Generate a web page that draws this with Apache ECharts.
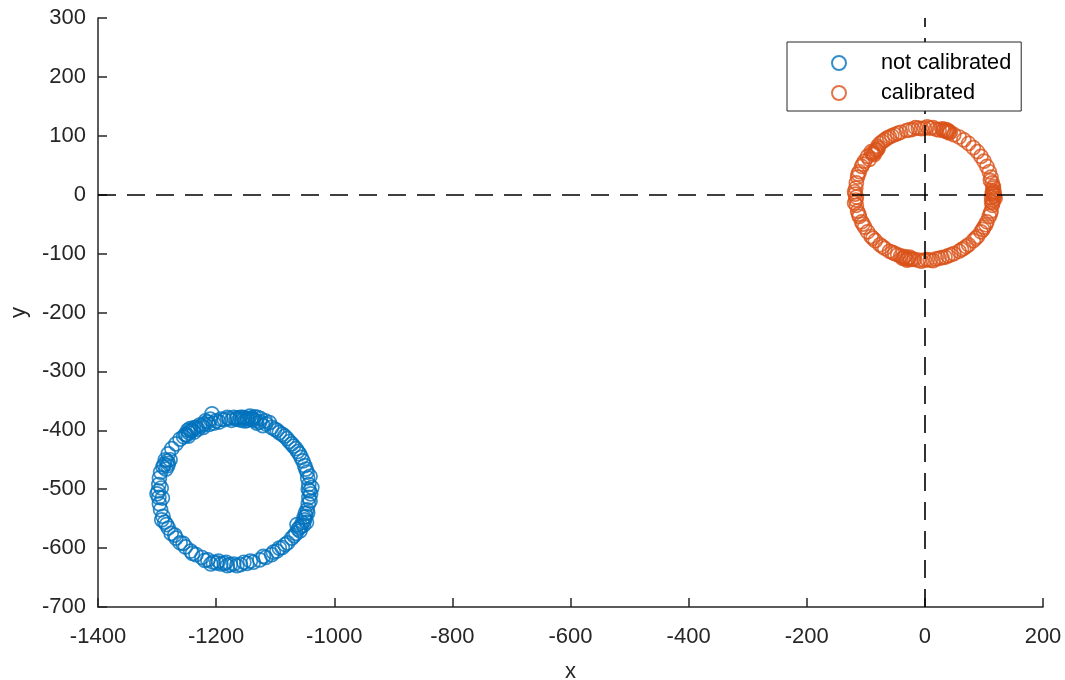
<!DOCTYPE html>
<html>
<head>
<meta charset="utf-8">
<script src="https://cdn.jsdelivr.net/npm/echarts@6/dist/echarts.min.js"></script>
<style>
html,body{margin:0;padding:0;background:#fff;}
#main{width:1065px;height:680px;}
</style>
</head>
<body>
<div id="main"></div>
<script>
const seriesNames = ['not calibrated', 'calibrated'];
const notCalibrated = [
  [-1042,-503],[-1043,-492],[-1045,-481],[-1046,-471],[-1050,-460],[-1053,-452],[-1059,-440],[-1065,-431],
  [-1072,-423],[-1080,-414],[-1088,-407],[-1097,-400],[-1106,-395],[-1116,-389],[-1126,-386],[-1133,-384],
  [-1137,-382],[-1141,-381],[-1145,-380],[-1148,-380],[-1152,-379],[-1155,-378],[-1159,-378],[-1164,-379],
  [-1170,-378],[-1178,-380],[-1181,-378],[-1192,-381],[-1200,-384],[-1207,-372],[-1214,-386],[-1220,-389],
  [-1224,-392],[-1234,-395],[-1240,-400],[-1243,-401],[-1246,-404],[-1250,-408],[-1252,-407],[-1261,-415],
  [-1268,-423],[-1275,-431],[-1281,-440],[-1283,-452],[-1281,-456],[-1286,-450],[-1290,-462],[-1294,-471],
  [-1296,-481],[-1297,-492],[-1298,-503],[-1297,-514],[-1296,-525],[-1294,-535],[-1290,-546],[-1287,-556],
  [-1281,-566],[-1276,-575],[-1268,-583],[-1261,-591],[-1252,-598],[-1243,-605],[-1234,-611],[-1224,-616],
  [-1214,-620],[-1205,-624],[-1199,-625],[-1192,-627],[-1186,-626],[-1181,-630],[-1176,-628],[-1170,-627],
  [-1159,-628],[-1148,-626],[-1137,-624],[-1126,-620],[-1116,-616],[-1106,-611],[-1097,-605],[-1088,-599],
  [-1079,-591],[-1072,-583],[-1065,-575],[-1061,-568],[-1059,-565],[-1054,-557],[-1050,-552],[-1048,-546],
  [-1046,-535],[-1044,-525],[-1043,-514],[-1040,-508],[-1044,-500],[-1047,-556],[-1052,-561],[-1045,-540],
  [-1125,-380],[-1130,-378],[-1135,-377],[-1139,-379],[-1143,-376],[-1147,-383],[-1151,-384],[-1156,-383],
  [-1161,-382],[-1166,-381],[-1174,-383],[-1186,-382],[-1195,-386],[-1204,-388],[-1210,-381],[-1218,-384],
  [-1228,-391],[-1231,-398],[-1237,-403],[-1244,-397],[-1248,-400],[-1255,-411],[-1247,-410],[-1238,-396],
  [-1222,-395],[-1212,-390],[-1117,-384],[-1110,-387],[-1121,-392],[-1131,-388],[-1282,-460],[-1285,-466],
  [-1278,-450],[-1288,-458],[-1291,-515],[-1300,-508],[-1293,-498],[-1292,-552],[-1284,-560],[-1270,-578],
  [-1256,-592],[-1240,-609],[-1219,-621],[-1209,-627],[-1196,-622],[-1183,-624],[-1165,-630],[-1153,-624],
  [-1142,-622],[-1120,-614],[-1103,-607],[-1093,-600],[-1083,-594],[-1068,-579],[-1056,-563],[-1051,-548],
  [-1049,-541],[-1058,-571],[-1063,-560],[-1041,-520],[-1038,-497],[-1041,-478],[-1048,-466],[-1056,-446],
  [-1062,-436],[-1069,-427],[-1076,-419],[-1084,-410],[-1093,-404],[-1101,-398]
];
const calibrated = [
  [116,1],[117,-3],[115,4],[116,11],[114,20],[112,30],[109,39],[105,48],[100,57],[95,65],[89,73],[82,80],
  [74,87],[66,93],[58,98],[49,102],[41,105],[38,107],[35,108],[31,109],[19,111],[9,113],[-1,113],[-11,113],
  [-21,111],[-31,109],[-41,106],[-51,102],[-60,98],[-68,93],[-76,87],[-81,76],[-84,73],[-87,70],[-91,73],
  [-97,65],[-102,57],[-107,48],[-111,39],[-114,30],[-116,20],[-117,11],[-118,1],[-117,-9],[-116,-18],
  [-114,-28],[-111,-37],[-107,-46],[-102,-55],[-97,-63],[-91,-71],[-84,-78],[-76,-85],[-68,-91],[-60,-96],
  [-51,-100],[-41,-104],[-36,-107],[-32,-109],[-28,-108],[-24,-110],[-21,-109],[-11,-111],[-1,-111],
  [9,-111],[19,-109],[29,-107],[39,-104],[49,-100],[58,-96],[66,-91],[74,-85],[82,-78],[89,-71],[95,-63],
  [100,-55],[105,-46],[109,-37],[112,-28],[114,-18],[116,-9],[113,-5],[115,7],
  [118,-1],[114,2],[117,5],[119,-6],[113,-12],[116,14],[111,24],[33,111],[37,110],[40,108],[43,106],
  [29,112],[24,110],[14,114],[4,115],[-6,112],[-16,114],[-26,110],[-46,104],[-56,100],[-64,96],
  [-72,90],[-79,79],[-83,76],[-86,68],[-89,71],[-80,82],[-94,60],[-105,52],[-113,35],[-119,5],
  [-116,-4],[-119,-14],[-112,-33],[-105,-50],[-88,-74],[-72,-88],[-55,-98],[-46,-102],[-38,-108],
  [-34,-105],[-30,-111],[-26,-106],[-18,-110],[-6,-113],[4,-110],[14,-112],[24,-108],[34,-106],
  [44,-102],[62,-93],[70,-88],[86,-74],[98,-59],[103,-51],[111,-32],[115,-14]
];
const xRange = [-1400, 200, 200];
const yRange = [-700, 300, 100];
const colors = ['#0072BD', '#D95319'];

const chart = echarts.init(document.getElementById('main'));
const axisColor = '#262626';
const font = 'Liberation Sans, Arial, sans-serif';
function scatter(name, data, color) {
  return {
    name: name, type: 'scatter', data: data, symbol: 'circle', symbolSize: 14, z: 2,
    itemStyle: { color: 'rgba(0,0,0,0)', borderColor: color, borderWidth: 1.7 },
    emphasis: { disabled: true }
  };
}
const s1 = scatter(seriesNames[0], notCalibrated, colors[0]);
const s2 = scatter(seriesNames[1], calibrated, colors[1]);
s2.markLine = {
  silent: true, symbol: 'none', label: { show: false },
  lineStyle: { color: '#000', width: 1.6, type: [18, 11] },
  data: [{ yAxis: 0 }, { xAxis: 0 }]
};
chart.setOption({
  animation: false,
  grid: { left: 98, right: 22, top: 18, bottom: 73, outerBoundsMode: 'none', containLabel: false },
  legend: {
    orient: 'vertical', left: 787, top: 42, z: 20,
    borderColor: axisColor, borderWidth: 1, backgroundColor: '#fff',
    padding: [10, 10, 7, 44], itemGap: 8, itemWidth: 14, itemHeight: 14,
    textStyle: { fontFamily: font, fontSize: 21.7, color: '#000', padding: [0, 0, 0, 30] },
    data: seriesNames
  },
  xAxis: {
    type: 'value', min: xRange[0], max: xRange[1], interval: xRange[2],
    name: 'x', nameLocation: 'middle', nameGap: 54,
    nameTextStyle: { fontFamily: font, fontSize: 22, color: axisColor },
    axisLine: { show: true, onZero: false, lineStyle: { color: axisColor, width: 1.5 } },
    axisTick: { show: true, inside: true, length: 9, lineStyle: { color: axisColor, width: 1.5 } },
    axisLabel: { fontFamily: font, fontSize: 22, color: axisColor, margin: 19, formatter: v => String(v) },
    splitLine: { show: false }
  },
  yAxis: {
    type: 'value', min: yRange[0], max: yRange[1], interval: yRange[2],
    name: 'y', nameLocation: 'middle', nameGap: 68,
    nameTextStyle: { fontFamily: font, fontSize: 22, color: axisColor },
    axisLine: { show: true, onZero: false, lineStyle: { color: axisColor, width: 1.5 } },
    axisTick: { show: true, inside: true, length: 9, lineStyle: { color: axisColor, width: 1.5 } },
    axisLabel: { fontFamily: font, fontSize: 22, color: axisColor, margin: 12, formatter: v => String(v) },
    splitLine: { show: false }
  },
  series: [s1, s2]
});
</script>
</body>
</html>
